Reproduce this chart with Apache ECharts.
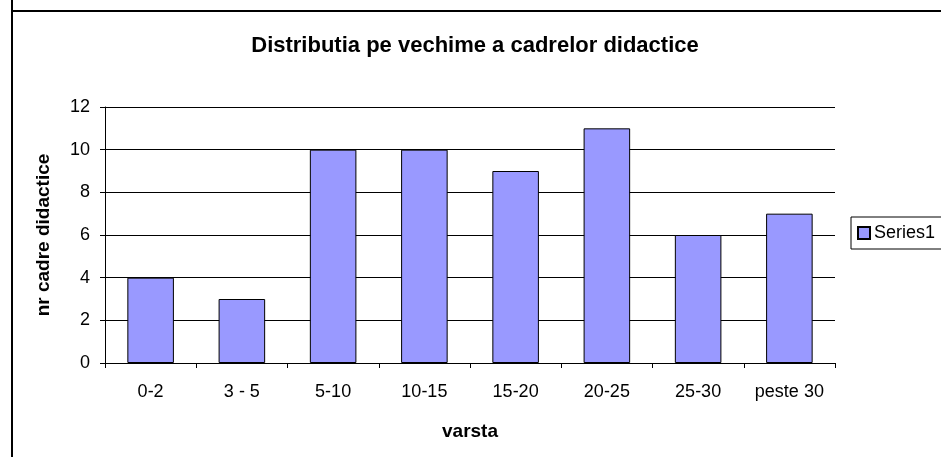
<!DOCTYPE html>
<html>
<head>
<meta charset="utf-8">
<script src="https://cdn.jsdelivr.net/npm/echarts@6/dist/echarts.min.js"></script>
<style>
html,body{margin:0;padding:0;background:#fff;}
#c{width:941px;height:457px;}
</style>
</head>
<body>
<div id="c"></div>
<script>
var categories = ['0-2', '3 - 5', '5-10', '10-15', '15-20', '20-25', '25-30', 'peste 30'];
var series1 = [4, 3, 10, 10, 9, 11, 6, 7];
var seriesName = 'Series1';
var titleText = 'Distributia pe vechime a cadrelor didactice';
var xName = 'varsta';
var yName = 'nr cadre didactice';

var chart = echarts.init(document.getElementById('c'), null, {renderer: 'canvas'});
var font = 'Liberation Sans, Arial, sans-serif';
chart.setOption({
  animation: false,
  backgroundColor: '#fff',
  textStyle: {fontFamily: font},
  title: {
    text: titleText,
    left: 470, top: 30, textAlign: 'center',
    textStyle: {fontFamily: font, fontSize: 22, fontWeight: 'bold', color: '#000'}
  },
  legend: {
    data: [seriesName],
    left: 851, top: 217,
    orient: 'vertical',
    borderColor: '#000', borderWidth: 1,
    padding: [7, 30, 7, 6],
    itemWidth: 12, itemHeight: 12, itemGap: 5,
    icon: 'rect',
    textStyle: {fontFamily: font, fontSize: 18, color: '#000', padding: [0, 0, 0, -1]}
  },
  graphic: [
    {type: 'line', shape: {x1: 12, y1: 0, x2: 12, y2: 457}, style: {stroke: '#000', lineWidth: 2}, z: 100, silent: true},
    {type: 'line', shape: {x1: 11, y1: 11, x2: 941, y2: 11}, style: {stroke: '#000', lineWidth: 2}, z: 100, silent: true}
  ],
  grid: {left: 105, right: 106, top: 107, bottom: 94, containLabel: false},
  xAxis: {
    type: 'category',
    data: categories,
    name: xName,
    nameLocation: 'middle',
    nameGap: 59,
    nameTextStyle: {fontFamily: font, fontSize: 19, fontWeight: 'bold', color: '#000'},
    axisLine: {lineStyle: {color: '#000', width: 1}},
    axisTick: {show: true, length: 5, lineStyle: {color: '#000'}},
    axisLabel: {interval: 0, color: '#000', fontSize: 18, fontFamily: font, margin: 20}
  },
  yAxis: {
    type: 'value',
    min: 0, max: 12, interval: 2,
    name: yName,
    nameLocation: 'middle',
    nameGap: 52,
    nameRotate: 90,
    nameTextStyle: {fontFamily: font, fontSize: 19, fontWeight: 'bold', color: '#000'},
    axisLine: {show: true, lineStyle: {color: '#000', width: 1}},
    axisTick: {show: true, length: 5, lineStyle: {color: '#000'}},
    axisLabel: {color: '#000', fontSize: 18, fontFamily: font, margin: 15},
    splitLine: {show: true, lineStyle: {color: '#000', width: 1}}
  },
  series: [{
    name: seriesName,
    type: 'bar',
    data: series1,
    barWidth: '51%',
    itemStyle: {color: '#9999FF', borderColor: '#000', borderWidth: 1}
  }]
});
</script>
</body>
</html>
